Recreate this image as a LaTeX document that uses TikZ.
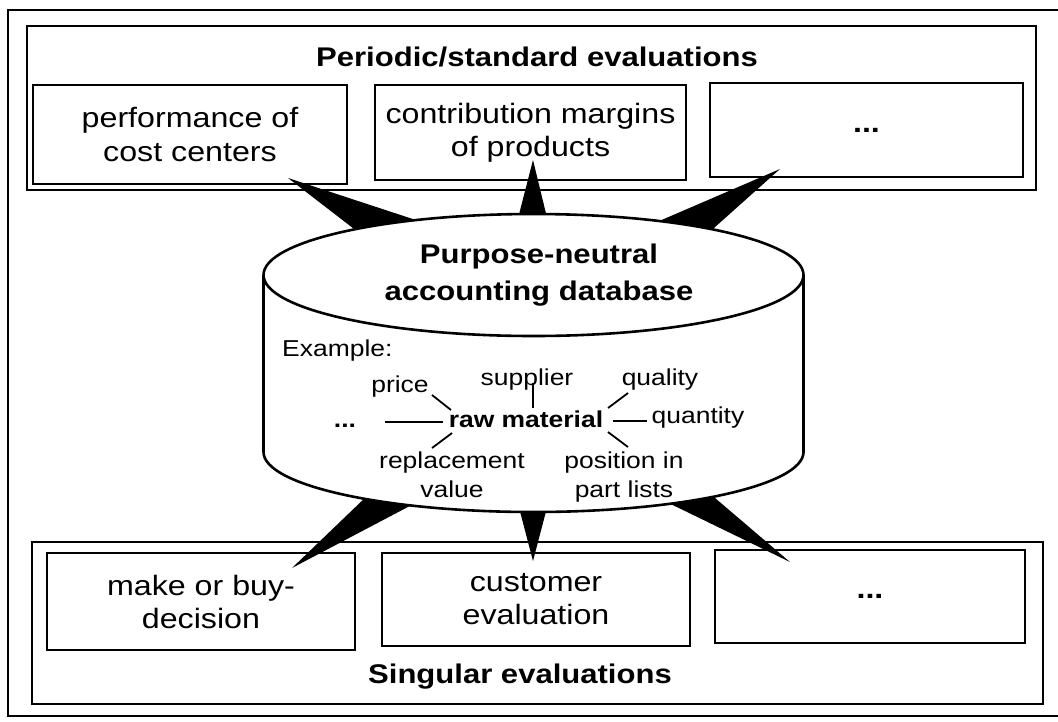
\documentclass[tikz,border=0pt]{standalone}
\usepackage{fontspec}
\setmainfont{Liberation Sans}[FakeStretch=1.15]
\begin{document}
\begin{tikzpicture}[x=1pt,y=1pt,
  thick line/.style={line width=2.6pt},
  grp/.style={draw, line width=2.6pt},
  evbox/.style={draw, line width=2.6pt, inner sep=0pt, align=center,
    font=\fontsize{28}{33}\selectfont},
  titletext/.style={font=\fontsize{27}{31}\selectfont\bfseries, inner sep=0pt},
  dbtext/.style={font=\fontsize{27}{37}\selectfont\bfseries, inner sep=0pt},
  small/.style={font=\fontsize{23}{29}\selectfont, inner sep=0pt},
  smallbold/.style={font=\fontsize{23}{29}\selectfont\bfseries, inner sep=0pt},
  link/.style={line width=1.8pt},
  wedge/.style={fill=black}]
\useasboundingbox (0,0) rectangle (1058,-721);
% outer frame
\draw[thick line] (1058,-10) -- (8,-10) -- (8,-716) -- (1058,-716);
% top group
\draw[grp] (27,-26) rectangle (1036,-190);
\node[titletext, anchor=base] (ttl) at (537,-66) {Periodic/standard evaluations};
\node[evbox, minimum width=314, minimum height=99] (b1) at (190,-134.5) {performance of\\cost centers};
\node[evbox, minimum width=311, minimum height=95] (b2) at (530.5,-132.5) {contribution margins\\of products};
\node[evbox, minimum width=313, minimum height=94, font=\fontsize{28}{33}\selectfont\bfseries] (b3) at (866.5,-130) {...};
% bottom group
\draw[grp] (32,-542) rectangle (1043,-704);
\node[titletext, anchor=base] (stl) at (520,-683) {Singular evaluations};
\node[evbox, minimum width=308, minimum height=97] (c1) at (201,-601.5) {make or buy-\\decision};
\node[evbox, minimum width=308, minimum height=93] (c2) at (536,-599.5) {customer\\evaluation};
\node[evbox, minimum width=310, minimum height=93, font=\fontsize{28}{33}\selectfont\bfseries] (c3) at (870,-596.5) {...};
% wedges (connectors)
\coordinate (t1) at (288,-178);
\coordinate (t2) at (533,-160);
\coordinate (t3) at (780,-169);
\coordinate (u1) at (292,-568);
\coordinate (u2) at (533,-561);
\coordinate (u3) at (790,-562);
\fill[wedge] (t1) -- (358,-232) -- (428,-224) -- cycle;
\fill[wedge] (t2) -- (515,-230) -- (550,-230) -- cycle;
\fill[wedge] (t3) -- (643,-228) -- (705,-236) -- cycle;
\fill[wedge] (u1) -- (368,-495) -- (425,-498) -- cycle;
\fill[wedge] (u2) -- (517,-500) -- (549,-500) -- cycle;
\fill[wedge] (u3) -- (650,-494) -- (708,-492) -- cycle;
% cylinder
\filldraw[thick line, fill=white] (263.5,-275) -- (263.5,-452)
  arc[start angle=180, end angle=360, x radius=270, y radius=60]
  -- (803.5,-275)
  arc[start angle=0, end angle=180, x radius=270, y radius=61] -- cycle;
\draw[thick line] (263.5,-275) arc[start angle=180, end angle=360, x radius=270, y radius=61];
\node[dbtext, anchor=base] (db1) at (539,-263) {Purpose-neutral};
\node[dbtext, anchor=base] (db2) at (539,-300) {accounting database};
% example
\node[small, anchor=base west] (ex) at (282,-356) {Example:};
\node[smallbold, anchor=base] (rm) at (526,-427) {raw material};
\node[small, anchor=base] (pr) at (400,-392) {price};
\node[small, anchor=base] (su) at (527,-385) {supplier};
\node[small, anchor=base] (qu) at (660,-385) {quality};
\node[small, anchor=base] (qt) at (698,-423) {quantity};
\node[smallbold, anchor=base] (dd) at (345,-427) {...};
\node[small, anchor=base] (rv) at (452,-468) {replacement};
\node[small, anchor=base] (rv2) at (452,-497) {value};
\node[small, anchor=base] (pl) at (624,-468) {position in};
\node[small, anchor=base] (pl2) at (624,-497) {part lists};
\coordinate (pa) at (432,-395); \coordinate (pb) at (451,-410);
\coordinate (sa) at (533,-383); \coordinate (sb) at (533,-408);
\coordinate (qa) at (608,-408); \coordinate (qb) at (628,-393);
\coordinate (da) at (385,-422); \coordinate (db) at (443,-422);
\coordinate (na) at (613,-421); \coordinate (nb) at (647,-421);
\coordinate (ra) at (452,-433); \coordinate (rb) at (432,-448);
\coordinate (oa) at (608,-432); \coordinate (ob) at (628,-447);
\draw[link] (pa) -- (pb);
\draw[link] (sa) -- (sb);
\draw[link] (qa) -- (qb);
\draw[link] (da) -- (db);
\draw[link] (na) -- (nb);
\draw[link] (ra) -- (rb);
\draw[link] (oa) -- (ob);
\end{tikzpicture}
\end{document}
